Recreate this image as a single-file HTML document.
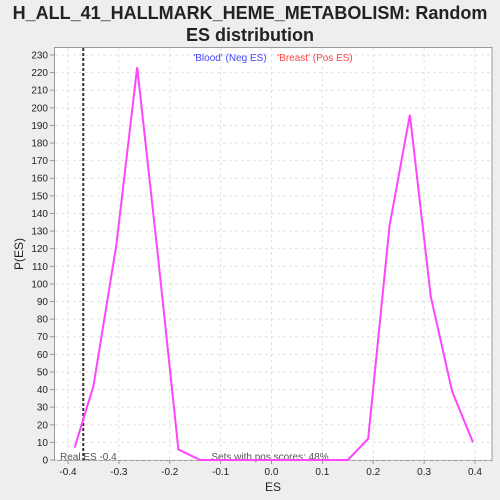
<!DOCTYPE html>
<html><head><meta charset="utf-8"><style>
body{margin:0;background:#eeeeee;font-family:"Liberation Sans",sans-serif}
</style></head><body>
<svg id="c" width="500" height="500" style="display:block">
<rect width="500" height="500" fill="#eeeeee"/>
<text x="250" y="19" text-anchor="middle" font-size="18" font-weight="bold" fill="#222">H_ALL_41_HALLMARK_HEME_METABOLISM: Random</text>
<text x="250" y="41" text-anchor="middle" font-size="18" font-weight="bold" fill="#222">ES distribution</text>
<rect x="54.5" y="47.5" width="437.5" height="413" fill="#fff" stroke="#999"/>
<g id="grid"></g><g id="axes"></g>
<text x="230" y="61" text-anchor="middle" font-size="10" fill="#4444ff">'Blood' (Neg ES)</text>
<text x="315" y="61" text-anchor="middle" font-size="10" fill="#ff4444">'Breast' (Pos ES)</text>
<text x="60" y="460" font-size="10" fill="#555">Real ES -0.4</text>
<text x="270" y="460" text-anchor="middle" font-size="10" fill="#555">Sets with pos scores: 48%</text>
<text x="273" y="491" text-anchor="middle" font-size="12" fill="#222">ES</text>
<text x="23" y="254" text-anchor="middle" font-size="12" fill="#222" transform="rotate(-90 23 254)">P(ES)</text>
</svg>
<script>
const esValues=[-0.387,-0.35,-0.305,-0.264,-0.224,-0.183,-0.14,-0.1,0,0.1,0.15,0.19,0.232,0.272,0.313,0.355,0.396];
const pValues=[7,42,122,223,118,6,0,0,0,0,0,12,133,196,93,39,10];
const realES=-0.37;
const xTicks=[-0.4,-0.3,-0.2,-0.1,0.0,0.1,0.2,0.3,0.4];
const yTicks=[0,10,20,30,40,50,60,70,80,90,100,110,120,130,140,150,160,170,180,190,200,210,220,230];
const NS='http://www.w3.org/2000/svg';
const X=v=>271.5+v*508.75, Y=v=>460-v*1.761;
const svg=document.getElementById('c'),grid=document.getElementById('grid'),axes=document.getElementById('axes');
function mk(p,t,a){const e=document.createElementNS(NS,t);for(const k in a)e.setAttribute(k,a[k]);p.appendChild(e);return e;}
xTicks.forEach(t=>{
 const g=mk(grid,'line',{x1:X(t),x2:X(t),y1:48,y2:460,stroke:'#e2e2e2','stroke-dasharray':'3,3'});
 
 
 const tk=mk(axes,'line',{x1:X(t),x2:X(t),y1:460,y2:464,stroke:'#999'});
 
 
 const l=mk(axes,'text',{x:X(t),y:475,'text-anchor':'middle','font-size':10,fill:'#222'});
 l.textContent=t.toFixed(1);
 
 
});
yTicks.forEach(t=>{
 const g=mk(grid,'line',{x1:55,x2:492,y1:Y(t),y2:Y(t),stroke:'#e2e2e2','stroke-dasharray':'3,3'});
 
 
 const tk=mk(axes,'line',{x1:50,x2:54,y1:Y(t),y2:Y(t),stroke:'#999'});
 
 
 const l=mk(axes,'text',{x:48,y:Y(t)+3.5,'text-anchor':'end','font-size':10,fill:'#222'});
 l.textContent=t;
 
 
});
const rl=mk(svg,'line',{x1:X(realES),x2:X(realES),y1:48,y2:460,stroke:'#333','stroke-width':2,'stroke-dasharray':'3,2'});


const pl=mk(svg,'polyline',{points:esValues.map((v,i)=>X(v)+','+Y(pValues[i])).join(' '),fill:'none',stroke:'#ff44ff','stroke-width':2});


</script>
</body></html>
